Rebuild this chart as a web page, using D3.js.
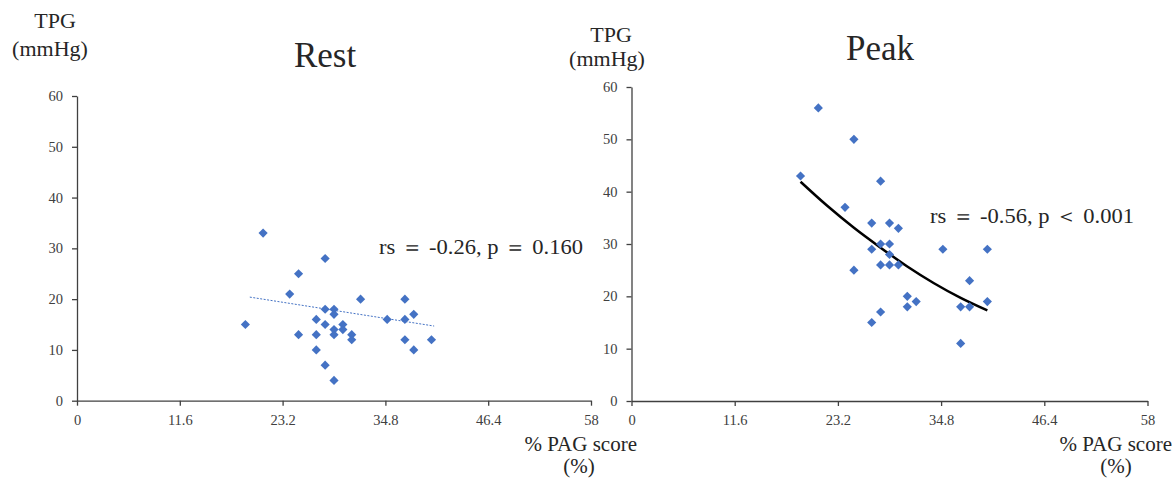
<!DOCTYPE html>
<html>
<head>
<meta charset="utf-8">
<script src="https://cdn.jsdelivr.net/npm/d3@7"></script>
<style>
  body { margin: 0; background: #fff; }
</style>
</head>
<body>
<svg id="chart" width="1173" height="480"></svg>
<script>
const serif = '"Liberation Serif", "Times New Roman", Times, serif';

// tick values shared by both panels
const xTicks = [0, 11.6, 23.2, 34.8, 46.4, 58];
const yTicks = [0, 10, 20, 30, 40, 50, 60];

// rest: % PAG score vs TPG
const restPag = [21, 28, 25, 24, 32, 37, 28, 29, 29, 38, 19, 27, 35, 37, 28, 30, 29, 30, 25, 27, 29, 31, 31, 37, 40, 27, 38, 28, 29];
const restTpg = [33, 28, 25, 21, 20, 20, 18, 18, 17, 17, 15, 16, 16, 16, 15, 15, 14, 14, 13, 13, 13, 13, 12, 12, 12, 10, 10, 7, 4];

// peak: % PAG score vs TPG
const peakPag = [21, 25, 19, 28, 24, 27, 29, 30, 28, 29, 35, 40, 27, 29, 28, 29, 30, 25, 38, 31, 32, 40, 31, 37, 38, 28, 27, 37];
const peakTpg = [56, 50, 43, 42, 37, 34, 34, 33, 30, 30, 29, 29, 29, 28, 26, 26, 26, 25, 23, 20, 19, 19, 18, 18, 18, 17, 15, 11];

// trend lines
const restTrendPag = [19.5, 40.3];
const restTrendTpg = [20.4, 14.7];
const peakFitPag = [19, 22, 25, 28, 31, 34, 37, 40];
const peakFitTpg = [41.9, 37.3, 33.1, 29.3, 25.7, 22.5, 19.7, 17.3];

const svg = d3.select("#chart");

const panels = [
  {
    pag: restPag, tpg: restTpg,
    xRange: [77, 591], yRange: [400.7, 96],
    title: "Rest", titlePos: [325, 67],
    tpgPos: [55, 28], mmhgPos: [50, 56],
    scorePos: [637, 451], pctPos: [579, 473],
    note: "rs ＝ -0.26, p ＝ 0.160", notePos: [379, 254],
    trend: { pag: restTrendPag, tpg: restTrendTpg, kind: "dotted" }
  },
  {
    pag: peakPag, tpg: peakTpg,
    xRange: [631.5, 1147.5], yRange: [401, 87],
    title: "Peak", titlePos: [880, 60],
    tpgPos: [611, 42], mmhgPos: [607, 66],
    scorePos: [1172, 451], pctPos: [1116, 473],
    note: "rs ＝ -0.56, p ＜ 0.001", notePos: [930, 223],
    trend: { pag: peakFitPag, tpg: peakFitTpg, kind: "solid" }
  }
];

const diamond = d3.symbol().type(d3.symbolSquare).size(42)();

function addText(str, pos, size, anchor) {
  return svg.append("text")
    .attr("x", pos[0])
    .attr("y", pos[1])
    .attr("text-anchor", anchor || "middle")
    .attr("font-family", serif)
    .attr("font-size", size)
    .attr("fill", "#262626")
    .text(str);
}

function styleAxis(g) {
  g.attr("font-family", serif).attr("font-size", 14.5);
  g.selectAll("path, line").attr("stroke", "#404040").attr("stroke-width", 1.3);
  g.selectAll("text").attr("fill", "#404040");
}

panels.forEach((p) => {
  const x = d3.scaleLinear().domain([0, 58]).range(p.xRange);
  const y = d3.scaleLinear().domain([0, 60]).range(p.yRange);

  // axes
  svg.append("g")
    .attr("transform", `translate(0,${y(0)})`)
    .call(d3.axisBottom(x).tickValues(xTicks).tickFormat((d) => d).tickSize(5).tickSizeOuter(0).tickPadding(9))
    .call(styleAxis);

  svg.append("g")
    .attr("transform", `translate(${x(0)},0)`)
    .call(d3.axisLeft(y).tickValues(yTicks).tickSize(5).tickSizeOuter(0).tickPadding(9))
    .call(styleAxis);

  // trend line
  const pts = p.trend.pag.map((v, i) => ({ x: v, y: p.trend.tpg[i] }));
  const line = d3.line()
    .x((d) => x(d.x))
    .y((d) => y(d.y))
    .curve(d3.curveMonotoneX);
  const path = svg.append("path")
    .attr("d", line(pts))
    .style("fill", "none");
  if (p.trend.kind === "dotted") {
    path.style("stroke", "#4472C4").style("stroke-width", 1).style("stroke-dasharray", "2,1.5");
  } else {
    path.style("stroke", "#000").style("stroke-width", 2.5);
  }

  // points
  svg.append("g")
    .selectAll("path")
    .data(p.pag.map((v, i) => ({ x: v, y: p.tpg[i] })))
    .join("path")
    .attr("d", diamond)
    .attr("transform", (d) => `translate(${x(d.x)},${y(d.y)}) rotate(45)`)
    .style("fill", "#4472C4");

  // texts
  addText(p.title, p.titlePos, 35);
  addText("TPG", p.tpgPos, 22);
  addText("(mmHg)", p.mmhgPos, 22);
  addText("% PAG score", p.scorePos, 21, "end");
  addText("(%)", p.pctPos, 21);
  addText(p.note, p.notePos, 21, "start")
    .attr("textLength", 204)
    .attr("lengthAdjust", "spacingAndGlyphs");
});
</script>
</body>
</html>
